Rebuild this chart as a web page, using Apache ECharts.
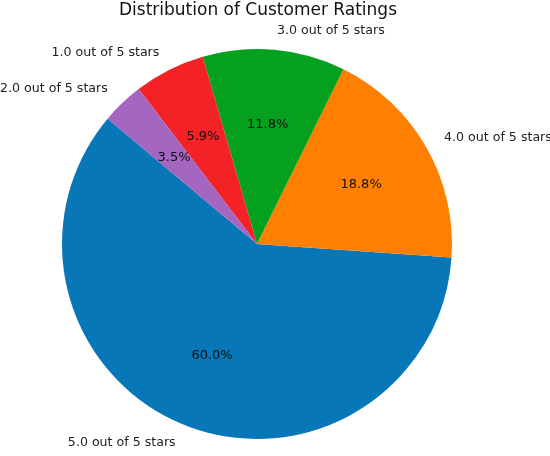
<!DOCTYPE html>
<html>
<head>
<meta charset="utf-8">
<script src="https://cdn.jsdelivr.net/npm/echarts@6/dist/echarts.min.js"></script>
<style>
  html, body { margin: 0; padding: 0; background: #fff; }
  #chart { width: 550px; height: 456px; }
</style>
</head>
<body>
<div id="chart"></div>
<script>
var dom = document.getElementById("chart");
var myChart = echarts.init(dom);

// order as drawn (counter-clockwise from 140 deg)
var ratings = ['5.0 out of 5 stars', '4.0 out of 5 stars', '3.0 out of 5 stars', '1.0 out of 5 stars', '2.0 out of 5 stars'];
var shares = [60.0, 18.8, 11.8, 5.9, 3.5];
var colors = ['#0877b7', '#ff8000', '#05a01e', '#f22226', '#a466c1'];

var R = 195;
var data = ratings.map(function (name, i) {
    return { name: name, value: shares[i] };
});

var option = {
    animation: false,
    color: colors,
    title: {
        text: 'Distribution of Customer Ratings',
        left: 258,
        top: 2,
        padding: 0,
        textAlign: 'center',
        textStyle: {
            fontFamily: 'DejaVu Sans',
            fontSize: 17,
            fontWeight: 'normal',
            color: '#111'
        }
    },
    series: [
        {
            name: 'Ratings',
            type: 'pie',
            center: [257, 244],
            radius: [0, R],
            startAngle: 140,
            clockwise: false,
            avoidLabelOverlap: false,
            silent: true,
            label: {
                show: true,
                position: 'outside',
                formatter: '{b}',
                fontFamily: 'DejaVu Sans',
                fontSize: 12.6,
                color: '#222',
                distanceToLabelLine: 1
            },
            labelLine: {
                show: false,
                length: R * 0.1,
                length2: 0
            },
            data: data
        },
        {
            // transparent copy so the percent labels sit at 0.6 R
            name: 'Percent',
            type: 'pie',
            center: [257, 244],
            radius: [0, R * 1.2],
            startAngle: 140,
            clockwise: false,
            avoidLabelOverlap: false,
            silent: true,
            itemStyle: { color: 'rgba(0,0,0,0)' },
            label: {
                show: true,
                position: 'inside',
                formatter: function (p) {
                    return p.percent.toFixed(1) + '%';
                },
                fontFamily: 'DejaVu Sans',
                fontSize: 13,
                color: '#111'
            },
            labelLine: { show: false },
            data: data
        }
    ]
};

myChart.setOption(option, true);
</script>
</body>
</html>
